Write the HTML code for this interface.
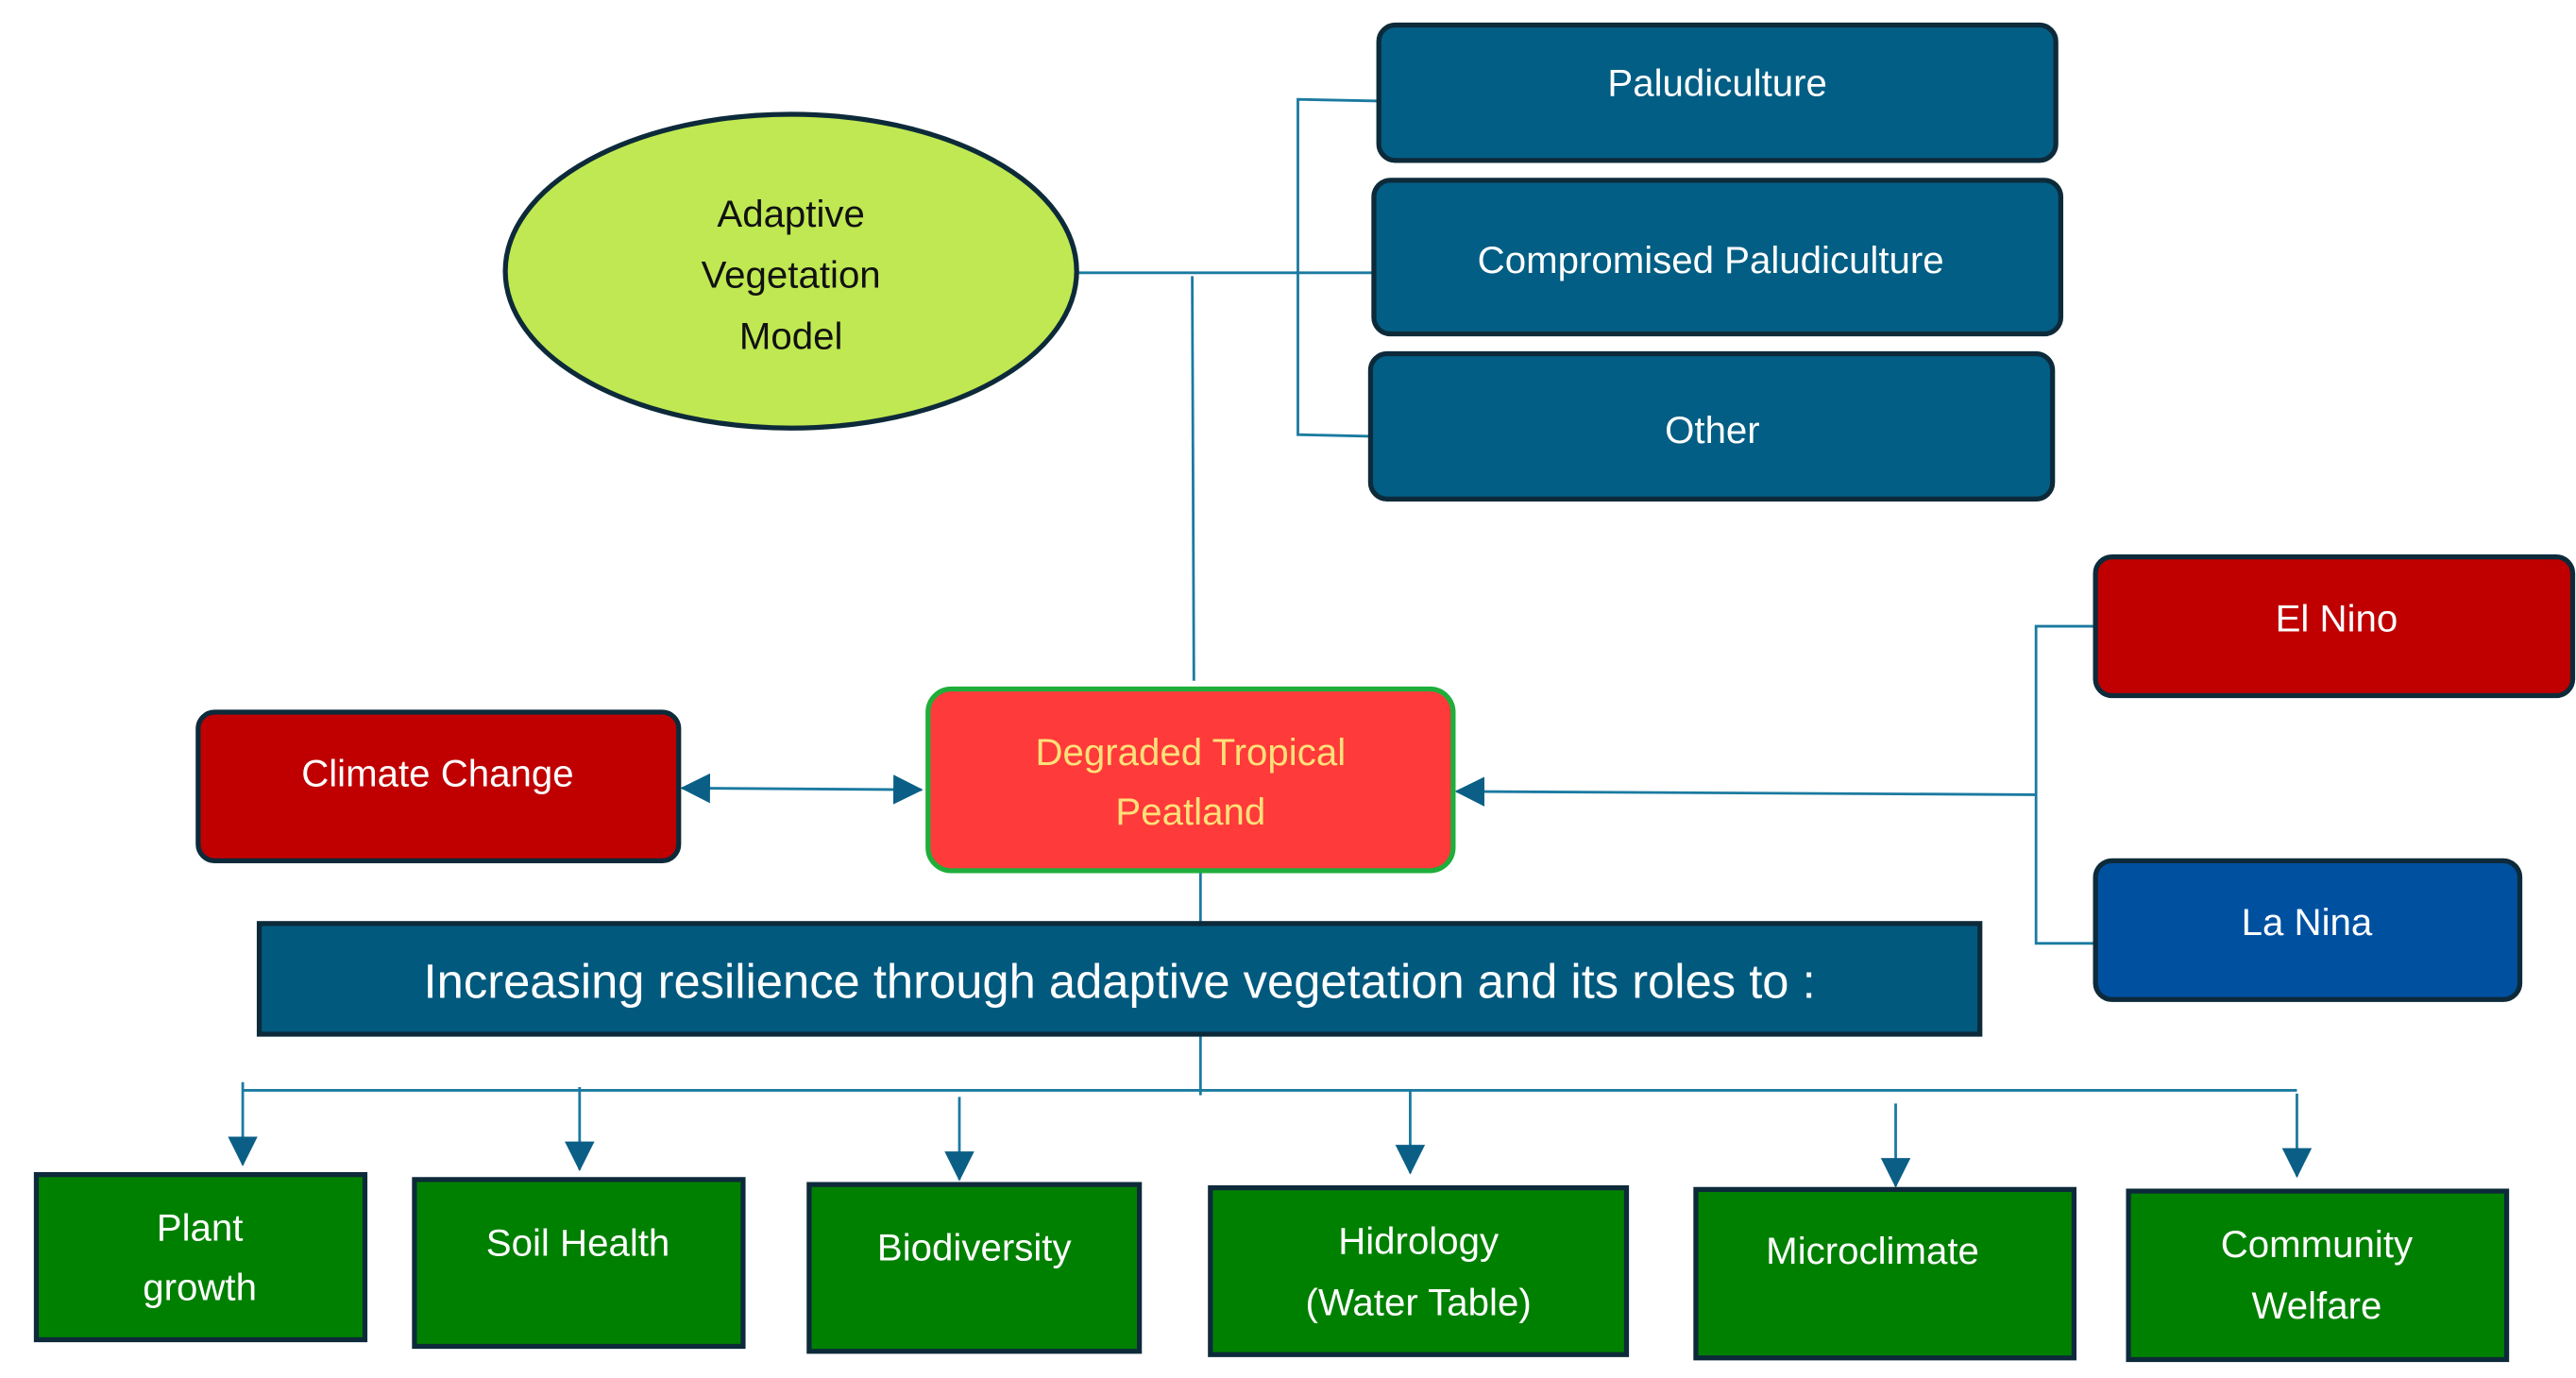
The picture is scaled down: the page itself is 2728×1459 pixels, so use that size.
<!DOCTYPE html>
<html><head><meta charset="utf-8"><style>
html,body{margin:0;padding:0;background:#fff;}
svg{display:block;}
text{font-family:"Liberation Sans",sans-serif;}
</style></head><body>
<svg width="2728" height="1459" viewBox="0 0 1560 834" xmlns="http://www.w3.org/2000/svg">
<defs>
<marker id="ahb" markerWidth="18" markerHeight="18" refX="17" refY="9" orient="auto" markerUnits="userSpaceOnUse"><path d="M0,0 L18,9 L0,18 z" fill="#0b5f86"/></marker>
<marker id="ahs" markerWidth="18" markerHeight="18" refX="1" refY="9" orient="auto" markerUnits="userSpaceOnUse"><path d="M18,0 L0,9 L18,18 z" fill="#0b5f86"/></marker>
</defs>
<g stroke="#1b7aa0" stroke-width="1.6" fill="none">
<line x1="652" y1="165" x2="832" y2="165"/>
<polyline points="835,61 786,60 786,263 830,264"/>
<line x1="722" y1="167" x2="723" y2="412"/>
<polyline points="1269,379 1233,379 1233,571 1269,571"/>
<line x1="1233" y1="481" x2="882" y2="479" marker-end="url(#ahb)"/>
<line x1="413" y1="477" x2="558" y2="478" marker-start="url(#ahs)" marker-end="url(#ahb)"/>
<line x1="727" y1="527" x2="727" y2="559"/>
<line x1="727" y1="626" x2="727" y2="663"/>
<line x1="147" y1="660" x2="1391" y2="660"/>
<line x1="147" y1="655" x2="147" y2="705" marker-end="url(#ahb)"/>
<line x1="351" y1="658" x2="351" y2="708" marker-end="url(#ahb)"/>
<line x1="581" y1="664" x2="581" y2="714" marker-end="url(#ahb)"/>
<line x1="854" y1="660" x2="854" y2="710" marker-end="url(#ahb)"/>
<line x1="1148" y1="668" x2="1148" y2="718" marker-end="url(#ahb)"/>
<line x1="1391" y1="662" x2="1391" y2="712" marker-end="url(#ahb)"/>
</g>
<ellipse cx="479" cy="164" rx="173" ry="95" fill="#bfe852" stroke="#0d2a3a" stroke-width="3"/>
<g font-size="23" text-anchor="middle" fill="#111">
<text x="479" y="137">Adaptive</text><text x="479" y="174">Vegetation</text><text x="479" y="211">Model</text>
</g>
<g fill="#025e84" stroke="#0d2a3a" stroke-width="3">
<rect x="835" y="15" width="410" height="82" rx="10"/>
<rect x="832" y="109" width="416" height="93" rx="10"/>
<rect x="830" y="214" width="413" height="88" rx="10"/>
<rect x="157" y="559" width="1042" height="67" fill="#01597e"/>
<rect x="1269" y="521" width="257" height="84" rx="10" fill="#0050a0"/>
</g>
<g fill="#c00000" stroke="#0d2a3a" stroke-width="3">
<rect x="1269" y="337" width="289" height="84" rx="10"/>
<rect x="120" y="431" width="291" height="90" rx="10"/>
</g>
<rect x="562" y="417" width="318" height="110" rx="14" fill="#ff3a3a" stroke="#1fae3a" stroke-width="3"/>
<g fill="#008000" stroke="#0d2a3a" stroke-width="3">
<rect x="22" y="711" width="199" height="100"/>
<rect x="251" y="714" width="199" height="101"/>
<rect x="490" y="717" width="200" height="101"/>
<rect x="733" y="719" width="252" height="101"/>
<rect x="1027" y="720" width="229" height="102"/>
<rect x="1289" y="721" width="229" height="102"/>
</g>
<g font-size="23" text-anchor="middle" fill="#fff">
<text x="1040" y="58">Paludiculture</text>
<text x="1036" y="165">Compromised Paludiculture</text>
<text x="1037" y="268">Other</text>
<text x="1415" y="382">El Nino</text>
<text x="1397" y="566">La Nina</text>
<text x="265" y="476">Climate Change</text>
<text x="678" y="604" font-size="29">Increasing resilience through adaptive vegetation and its roles to :</text>
<text x="121" y="751">Plant</text><text x="121" y="787">growth</text>
<text x="350" y="760">Soil Health</text>
<text x="590" y="763">Biodiversity</text>
<text x="859" y="759">Hidrology</text><text x="859" y="796">(Water Table)</text>
<text x="1134" y="765">Microclimate</text>
<text x="1403" y="761">Community</text><text x="1403" y="798">Welfare</text>
</g>
<g font-size="23" text-anchor="middle" fill="#ffe07a">
<text x="721" y="463">Degraded Tropical</text><text x="721" y="499">Peatland</text>
</g>
</svg>
</body></html>
